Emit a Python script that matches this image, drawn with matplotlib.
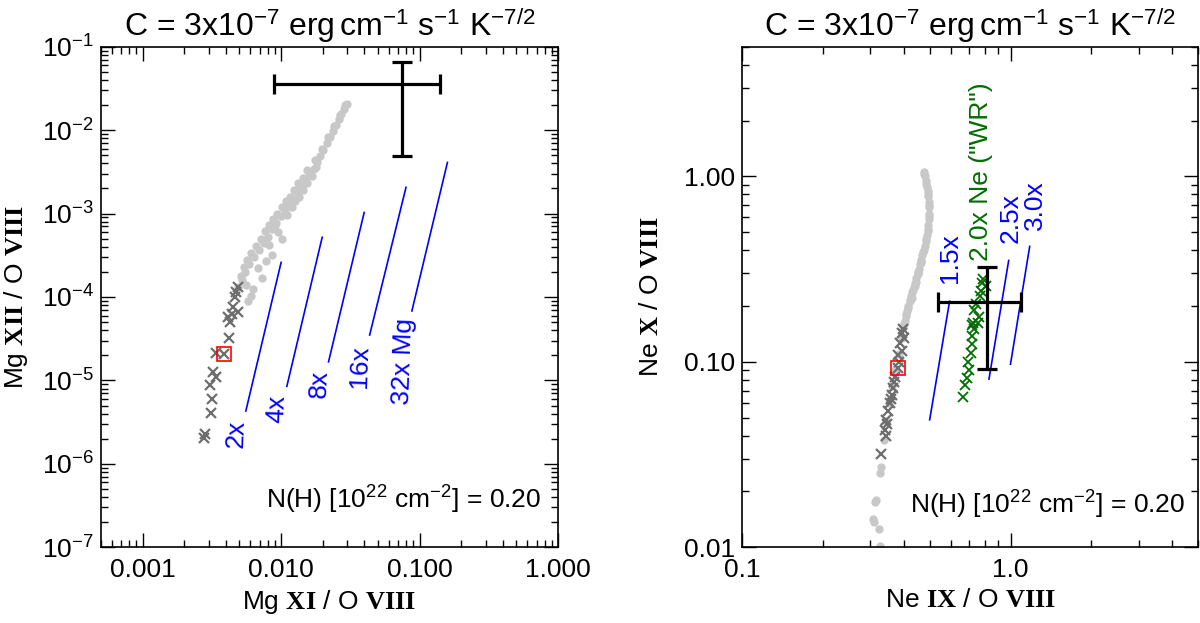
import matplotlib
matplotlib.use('Agg')
import matplotlib.pyplot as plt
import numpy as np
from matplotlib.ticker import FixedLocator, FixedFormatter, LogLocator, NullFormatter

plt.rcParams['font.family'] = ['Liberation Sans', 'DejaVu Sans']
plt.rcParams['mathtext.fontset'] = 'custom'
plt.rcParams['mathtext.rm'] = 'Liberation Sans'
plt.rcParams['mathtext.it'] = 'Liberation Sans:italic'
plt.rcParams['mathtext.bf'] = 'Liberation Serif:bold'

# ---- left panel: Mg ----
mg_model_x = [0.0298, 0.0285, 0.0272, 0.0260, 0.0248, 0.0237, 0.0225, 0.0213, 0.0202, 0.0192,
              0.0182, 0.0172, 0.0160, 0.0150, 0.0140, 0.0130, 0.0122, 0.0114, 0.0106, 0.0099,
              0.0092, 0.0086, 0.0080, 0.0075, 0.0069, 0.0064, 0.0059, 0.0055, 0.0052, 0.0049,
              0.0168, 0.0145, 0.0135, 0.0120, 0.0111, 0.0101, 0.0095, 0.0086, 0.0082, 0.0078,
              0.0073, 0.0068, 0.0063, 0.0061, 0.0058, 0.0056, 0.0178, 0.0155, 0.0126, 0.0090,
              0.0290, 0.0265, 0.0242, 0.0218, 0.0196, 0.0176, 0.0155, 0.0143, 0.0133, 0.0124,
              0.0116, 0.0108, 0.0101, 0.0094, 0.0088, 0.0082, 0.0077, 0.0071, 0.0066, 0.0061,
              0.0057, 0.0054, 0.0051]
mg_model_y = [0.0206, 0.0180, 0.0155, 0.0135, 0.0115, 0.0098, 0.0083, 0.0070, 0.0058, 0.0049,
              0.0041, 0.0034, 0.0029, 0.0025, 0.0021, 0.0018, 0.0015, 0.0013, 0.0011, 0.00093,
              0.00078, 0.00065, 0.00053, 0.00045, 0.00037, 0.00030, 0.00025, 0.00020, 0.00016, 0.00013,
              0.0028, 0.0019, 0.0016, 0.0012, 0.00095, 0.00050, 0.00060, 0.00032, 0.00042, 0.00027,
              0.00017, 0.00022, 0.000125, 0.000103, 0.00009, 0.00014, 0.0036, 0.0023, 0.0014, 0.00072,
              0.0200, 0.0150, 0.0112, 0.0082, 0.0060, 0.0044, 0.0033, 0.0027, 0.0023, 0.0019,
              0.0016, 0.0014, 0.0012, 0.0010, 0.00085, 0.00072, 0.00061, 0.00050, 0.00041, 0.00034,
              0.00028, 0.00023, 0.00018]

mg_cool_x = [0.0049, 0.00464, 0.00451, 0.0049, 0.00416, 0.0044, 0.00428, 0.00423, 0.00387,
             0.00339, 0.00324, 0.00339, 0.00307, 0.00318, 0.00310, 0.00282, 0.00279, 0.0047]
mg_cool_y = [1.33e-4, 1.0e-4, 7.6e-5, 6.7e-5, 5.8e-5, 6.3e-5, 5.0e-5, 3.2e-5, 2.1e-5,
             2.15e-5, 1.27e-5, 1.1e-5, 8.8e-6, 6.0e-6, 4.1e-6, 2.3e-6, 2.05e-6, 1.15e-4]
mg_ref_x, mg_ref_y = 0.00387, 2.1e-5

mg_line_x0 = [0.00556, 0.0110, 0.0220, 0.0436, 0.088]
mg_line_y0 = [4.3e-6, 8.5e-6, 1.67e-5, 3.5e-5, 6.8e-5]
mg_line_x1 = [0.0100, 0.0198, 0.0398, 0.0798, 0.159]
mg_line_y1 = [2.6e-4, 5.2e-4, 1.03e-3, 2.06e-3, 4.1e-3]
mg_labels = ['2x', '4x', '8x', '16x', '32x Mg']
mg_label_x = [0.00478, 0.00944, 0.0191, 0.0373, 0.0788]
mg_label_y = [3.34e-6, 6.67e-6, 1.33e-5, 2.65e-5, 5.58e-5]

mg_obs_x, mg_obs_y = 0.0746, 0.0357
mg_obs_xlo, mg_obs_xhi = 0.0089, 0.140
mg_obs_ylo, mg_obs_yhi = 0.00489, 0.065

# ---- right panel: Ne ----
ne_model_x = [0.474, 0.478, 0.482, 0.486, 0.490, 0.494, 0.497, 0.498, 0.497, 0.495, 0.493,
              0.490, 0.486, 0.482, 0.478, 0.474, 0.469, 0.465, 0.460, 0.455, 0.450, 0.445,
              0.440, 0.435, 0.430, 0.425, 0.420, 0.415, 0.411, 0.407, 0.403, 0.398,
              0.462, 0.452, 0.440, 0.428, 0.414, 0.402,
              0.392, 0.382, 0.372, 0.362, 0.352, 0.343, 0.336,
              0.330, 0.326, 0.316, 0.312, 0.307, 0.310, 0.323, 0.326,
              0.476, 0.484, 0.492, 0.496, 0.496, 0.491, 0.484, 0.472, 0.463, 0.452,
              0.442, 0.432, 0.421, 0.409, 0.400]
ne_model_y = [1.06, 1.00, 0.94, 0.88, 0.83, 0.78, 0.73, 0.68, 0.63, 0.59, 0.55,
              0.51, 0.48, 0.45, 0.42, 0.40, 0.375, 0.355, 0.335, 0.315, 0.298, 0.282,
              0.267, 0.252, 0.238, 0.225, 0.212, 0.200, 0.188, 0.177, 0.166, 0.155,
              0.345, 0.300, 0.255, 0.220, 0.195, 0.160,
              0.135, 0.110, 0.090, 0.074, 0.060, 0.048, 0.038,
              0.0272, 0.0251, 0.0180, 0.0176, 0.0142, 0.0137, 0.0125, 0.0102,
              1.03, 0.91, 0.80, 0.70, 0.61, 0.52, 0.46, 0.39, 0.345, 0.305,
              0.270, 0.245, 0.215, 0.182, 0.160]

ne_cool_x = [0.392, 0.399, 0.386, 0.395, 0.380, 0.379, 0.368, 0.365, 0.360, 0.354,
             0.350, 0.344, 0.340, 0.343, 0.330, 0.397, 0.384, 0.372, 0.357, 0.347]
ne_cool_y = [0.143, 0.134, 0.126, 0.114, 0.109, 0.0925, 0.078, 0.072, 0.066, 0.060,
             0.054, 0.0486, 0.043, 0.0396, 0.032, 0.150, 0.100, 0.083, 0.063, 0.046]
ne_ref_x, ne_ref_y = 0.379, 0.0925

ne_wr_x = [0.665, 0.675, 0.688, 0.700, 0.695, 0.714, 0.718, 0.720, 0.730, 0.726,
           0.755, 0.730, 0.767, 0.780, 0.790, 0.810, 0.718, 0.745, 0.775, 0.760]
ne_wr_y = [0.0646, 0.075, 0.0817, 0.0905, 0.100, 0.111, 0.124, 0.137, 0.151, 0.162,
           0.162, 0.191, 0.225, 0.266, 0.280, 0.256, 0.158, 0.205, 0.240, 0.175]

ne_line_x0 = [0.499, 0.830, 0.998]
ne_line_y0 = [0.0487, 0.0807, 0.097]
ne_line_x1 = [0.592, 0.983, 1.177]
ne_line_y1 = [0.212, 0.352, 0.419]
ne_labels = ['1.5x', '2.0x Ne ("WR")', '2.5x', '3.0x']
ne_label_x = [0.593, 0.773, 1.000, 1.228]
ne_label_y = [0.266, 0.348, 0.437, 0.516]
ne_label_col = ['blue', '#006e00', 'blue', 'blue']

ne_obs_x, ne_obs_y = 0.816, 0.209
ne_obs_xlo, ne_obs_xhi = 0.534, 1.096
ne_obs_ylo, ne_obs_yhi = 0.0917, 0.324

title = r'C = 3x10$^{-7}$ erg$\,$cm$^{-1}$ s$^{-1}$ K$^{-7/2}$'
nh_text = r'N(H) [10$^{22}$ cm$^{-2}$] = 0.20'

light = '#c8c8c8'
dark = '#6e6e6e'
FS = 19


def style(ax):
    ax.set_xscale('log')
    ax.set_yscale('log')
    ax.tick_params(which='both', direction='in', top=True, right=True, width=1.0,
                   labelsize=FS)
    ax.tick_params(which='major', length=10)
    ax.tick_params(which='minor', length=5)
    ax.tick_params(axis='x', pad=8)
    ax.tick_params(axis='y', pad=5)
    for s in ax.spines.values():
        s.set_linewidth(1.2)
    ax.set_title(title, fontsize=23, pad=8)


fig = plt.figure(figsize=(12, 6.23), dpi=100)

# left
ax1 = fig.add_axes([101 / 1200, 75.7 / 623, 457 / 1200, 500.6 / 623])
style(ax1)
ax1.plot(mg_model_x, mg_model_y, 'o', color=light, ms=6, mec='none')
ax1.plot(mg_cool_x, mg_cool_y, 'x', color=dark, ms=7.5, mew=1.6)
ax1.plot([mg_ref_x], [mg_ref_y], 's', mfc='none', mec='red', ms=10.5, mew=1.2)
for i in range(len(mg_labels)):
    ax1.plot([mg_line_x0[i], mg_line_x1[i]], [mg_line_y0[i], mg_line_y1[i]],
             color='blue', lw=1.2)
    ax1.text(mg_label_x[i], mg_label_y[i], mg_labels[i], color='blue', fontsize=FS,
             rotation=88, rotation_mode='anchor', ha='right', va='center')
ax1.errorbar([mg_obs_x], [mg_obs_y],
             xerr=[[mg_obs_x - mg_obs_xlo], [mg_obs_xhi - mg_obs_x]],
             yerr=[[mg_obs_y - mg_obs_ylo], [mg_obs_yhi - mg_obs_y]],
             fmt='none', ecolor='black', elinewidth=2.3, capsize=7, capthick=2.3)
ax1.set_xlim(5e-4, 1.0)
ax1.set_ylim(1e-7, 1e-1)
ax1.xaxis.set_major_locator(FixedLocator([0.001, 0.01, 0.1, 1.0]))
ax1.xaxis.set_major_formatter(FixedFormatter(['0.001', '0.010', '0.100', '1.000']))
ax1.yaxis.set_major_locator(FixedLocator([1e-7, 1e-6, 1e-5, 1e-4, 1e-3, 1e-2, 1e-1]))
for a in (ax1.xaxis, ax1.yaxis):
    a.set_minor_locator(LogLocator(base=10, subs=np.arange(2, 10), numticks=30))
    a.set_minor_formatter(NullFormatter())
ax1.set_xlabel(r'Mg $\mathbf{XI}$ / O $\mathbf{VIII}$', fontsize=FS)
ax1.set_ylabel(r'Mg $\mathbf{XII}$ / O $\mathbf{VIII}$', fontsize=FS)
ax1.xaxis.set_label_coords(0.5, -0.081)
ax1.yaxis.set_label_coords(-0.155, 0.5)
ax1.text(0.964, 0.0945, nh_text, transform=ax1.transAxes, ha='right', va='center',
         fontsize=FS)

# right
ax2 = fig.add_axes([742.3 / 1200, 75.7 / 623, 456 / 1200, 500.6 / 623])
style(ax2)
ax2.plot(ne_model_x, ne_model_y, 'o', color=light, ms=6, mec='none')
ax2.plot(ne_cool_x, ne_cool_y, 'x', color=dark, ms=7.5, mew=1.6)
ax2.plot([ne_ref_x], [ne_ref_y], 's', mfc='none', mec='red', ms=10.5, mew=1.2)
ax2.plot(ne_wr_x, ne_wr_y, 'x', color='#006e00', ms=7, mew=1.3)
for i in range(len(ne_line_x0)):
    ax2.plot([ne_line_x0[i], ne_line_x1[i]], [ne_line_y0[i], ne_line_y1[i]],
             color='blue', lw=1.2)
for i in range(len(ne_labels)):
    ax2.text(ne_label_x[i], ne_label_y[i], ne_labels[i], color=ne_label_col[i],
             fontsize=FS, rotation=90, rotation_mode='anchor', ha='left', va='center')
ax2.errorbar([ne_obs_x], [ne_obs_y],
             xerr=[[ne_obs_x - ne_obs_xlo], [ne_obs_xhi - ne_obs_x]],
             yerr=[[ne_obs_y - ne_obs_ylo], [ne_obs_yhi - ne_obs_y]],
             fmt='none', ecolor='black', elinewidth=2.3, capsize=7, capthick=2.3)
ax2.set_xlim(0.1, 5.0)
ax2.set_ylim(0.01, 5.0)
ax2.xaxis.set_major_locator(FixedLocator([0.1, 1.0]))
ax2.xaxis.set_major_formatter(FixedFormatter(['0.1', '1.0']))
ax2.yaxis.set_major_locator(FixedLocator([0.01, 0.1, 1.0]))
ax2.yaxis.set_major_formatter(FixedFormatter(['0.01', '0.10', '1.00']))
for a in (ax2.xaxis, ax2.yaxis):
    a.set_minor_locator(LogLocator(base=10, subs=np.arange(2, 10), numticks=30))
    a.set_minor_formatter(NullFormatter())
ax2.set_xlabel(r'Ne $\mathbf{IX}$ / O $\mathbf{VIII}$', fontsize=FS)
ax2.set_ylabel(r'Ne $\mathbf{X}$ / O $\mathbf{VIII}$', fontsize=FS)
ax2.xaxis.set_label_coords(0.5, -0.081)
ax2.yaxis.set_label_coords(-0.175, 0.5)
ax2.text(0.971, 0.0845, nh_text, transform=ax2.transAxes, ha='right', va='center',
         fontsize=FS)

fig.savefig('out.png', dpi=100)
